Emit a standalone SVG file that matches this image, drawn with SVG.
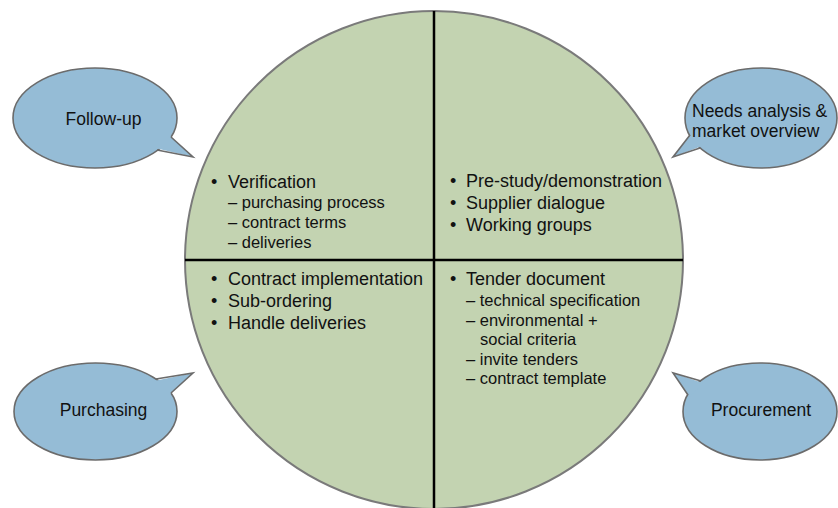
<svg xmlns="http://www.w3.org/2000/svg" width="838" height="508" viewBox="0 0 838 508">
  <style>
    .disc { fill: #c3d3b1; stroke: #7a7a7a; stroke-width: 2; }
    .axis { stroke: #000; stroke-width: 2.5; fill: none; }
    .bubble { fill: #95bcd6; stroke: #6b6b6b; stroke-width: 1.6; }
    .tailfill { fill: #95bcd6; stroke: none; }
    .tailedge { fill: none; stroke: #6b6b6b; stroke-width: 1.6; stroke-linejoin: miter; }
    text { font-family: "Liberation Sans", Arial, sans-serif; fill: #111; }
    .main { font-size: 18px; }
    .sub { font-size: 16.5px; }
    .label { font-size: 17.5px; }
  </style>

  <!-- central cycle disc split into four phases -->
  <g id="cycle">
    <circle class="disc" cx="434" cy="260" r="249"/>
    <line class="axis" x1="185" y1="260" x2="683" y2="260"/>
    <line class="axis" x1="434" y1="11" x2="434" y2="508"/>
  </g>

  <!-- quadrant contents -->
  <g id="q-follow-up">
    <text class="main" y="188"><tspan x="211">•</tspan><tspan x="228">Verification</tspan></text>
    <text class="sub" x="228" y="208">– purchasing process</text>
    <text class="sub" x="228" y="228">– contract terms</text>
    <text class="sub" x="228" y="248">– deliveries</text>
  </g>

  <g id="q-needs">
    <text class="main" y="187"><tspan x="450">•</tspan><tspan x="466">Pre-study/demonstration</tspan></text>
    <text class="main" y="209"><tspan x="450">•</tspan><tspan x="466">Supplier dialogue</tspan></text>
    <text class="main" y="231"><tspan x="450">•</tspan><tspan x="466">Working groups</tspan></text>
  </g>

  <g id="q-purchasing">
    <text class="main" y="285"><tspan x="211">•</tspan><tspan x="228">Contract implementation</tspan></text>
    <text class="main" y="307"><tspan x="211">•</tspan><tspan x="228">Sub-ordering</tspan></text>
    <text class="main" y="329"><tspan x="211">•</tspan><tspan x="228">Handle deliveries</tspan></text>
  </g>

  <g id="q-procurement">
    <text class="main" y="285"><tspan x="450">•</tspan><tspan x="466">Tender document</tspan></text>
    <text class="sub" x="466" y="306">– technical specification</text>
    <text class="sub" x="466" y="326">– environmental +</text>
    <text class="sub" x="480" y="345">social criteria</text>
    <text class="sub" x="466" y="365">– invite tenders</text>
    <text class="sub" x="466" y="384">– contract template</text>
  </g>

  <!-- speech bubbles naming each phase -->
  <g id="follow-up">
    <ellipse class="bubble" cx="95" cy="118" rx="82" ry="50"/>
    <path class="tailfill" d="M155,148 L193,157 L169,135 Z"/>
    <path class="tailedge" d="M157,150 L193,157 L171,137"/>
    <text class="label" x="103.5" y="125" text-anchor="middle">Follow-up</text>
  </g>

  <g id="needs-analysis">
    <ellipse class="bubble" cx="761" cy="118" rx="76" ry="50"/>
    <path class="tailfill" d="M702,146 L673,157 L692,133 Z"/>
    <path class="tailedge" d="M700,148 L673,157 L690,135"/>
    <text class="label" x="692" y="117">Needs analysis &amp;</text>
    <text class="label" x="692" y="137">market overview</text>
  </g>

  <g id="purchasing">
    <ellipse class="bubble" cx="95.5" cy="411.5" rx="81.5" ry="48.5"/>
    <path class="tailfill" d="M154,381 L193,373 L169,395 Z"/>
    <path class="tailedge" d="M156,379 L193,373 L171,393"/>
    <text class="label" x="103.5" y="416" text-anchor="middle">Purchasing</text>
  </g>

  <g id="procurement">
    <ellipse class="bubble" cx="760" cy="411.5" rx="77" ry="48.5"/>
    <path class="tailfill" d="M703,383 L673,373 L690,397 Z"/>
    <path class="tailedge" d="M701,381 L673,373 L688,395"/>
    <text class="label" x="761" y="416" text-anchor="middle">Procurement</text>
  </g>

  <g id="connectors"/>
</svg>
